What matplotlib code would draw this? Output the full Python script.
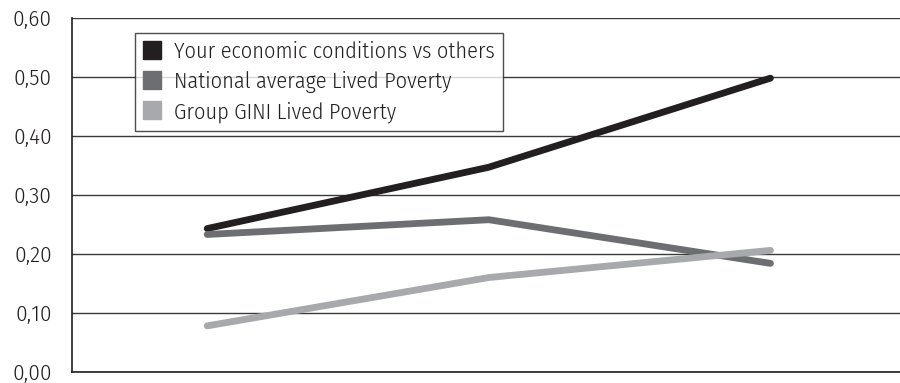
import matplotlib
matplotlib.use("Agg")
import matplotlib.pyplot as plt
from matplotlib.lines import Line2D
from matplotlib.ticker import FuncFormatter

plt.rcParams['font.family'] = ['Fira Sans Condensed', 'DejaVu Sans']
plt.rcParams['font.weight'] = 300

# Data
periods = [0, 1, 2]
series_names = [
    "Your economic conditions vs others",
    "National average Lived Poverty",
    "Group GINI Lived Poverty",
]
economic_conditions = [0.243, 0.347, 0.498]
national_lived_poverty = [0.233, 0.258, 0.184]
gini_lived_poverty = [0.078, 0.160, 0.206]
y_ticks = [0.0, 0.1, 0.2, 0.3, 0.4, 0.5, 0.6]

colors = ["#231f20", "#6d6e71", "#a7a9ac"]
values = [economic_conditions, national_lived_poverty, gini_lived_poverty]

fig = plt.figure(figsize=(9.0, 3.83), dpi=100)
ax = fig.add_axes([0.08, 0.029, 0.92, 0.924])

for ys, c in zip(values, colors):
    ax.plot(periods, ys, color=c, lw=4.9, solid_capstyle='round',
            solid_joinstyle='round', zorder=3)

ax.set_ylim(0, 0.6)
ax.set_xlim(-0.48, 2.46)
ax.set_yticks(y_ticks)
ax.yaxis.set_major_formatter(FuncFormatter(lambda v, p: f"{v:.2f}".replace('.', ',')))
ax.set_xticks([])
ax.grid(axis='y', color='#3a3a3a', lw=1.0, zorder=1)
ax.tick_params(axis='y', length=0, pad=14.5, labelsize=16.5, colors='#231f20')

for side in ('top', 'right'):
    ax.spines[side].set_visible(False)
for side in ('left', 'bottom'):
    ax.spines[side].set_color('#231f20')
    ax.spines[side].set_linewidth(1.2)

handles = [Line2D([], [], marker='s', ls='none', markersize=13.5,
                  markerfacecolor=c, markeredgecolor=c) for c in colors]
leg = ax.legend(handles, series_names, loc='upper left',
                bbox_to_anchor=(0.076, 0.958), frameon=True, fancybox=False,
                fontsize=16, handlelength=0.85, handletextpad=0.55,
                labelspacing=0.38, borderpad=0.36, borderaxespad=0)
leg.get_frame().set_edgecolor('#231f20')
leg.get_frame().set_linewidth(1.0)
for t in leg.get_texts():
    t.set_color('#231f20')

fig.savefig("out.png", dpi=100)
